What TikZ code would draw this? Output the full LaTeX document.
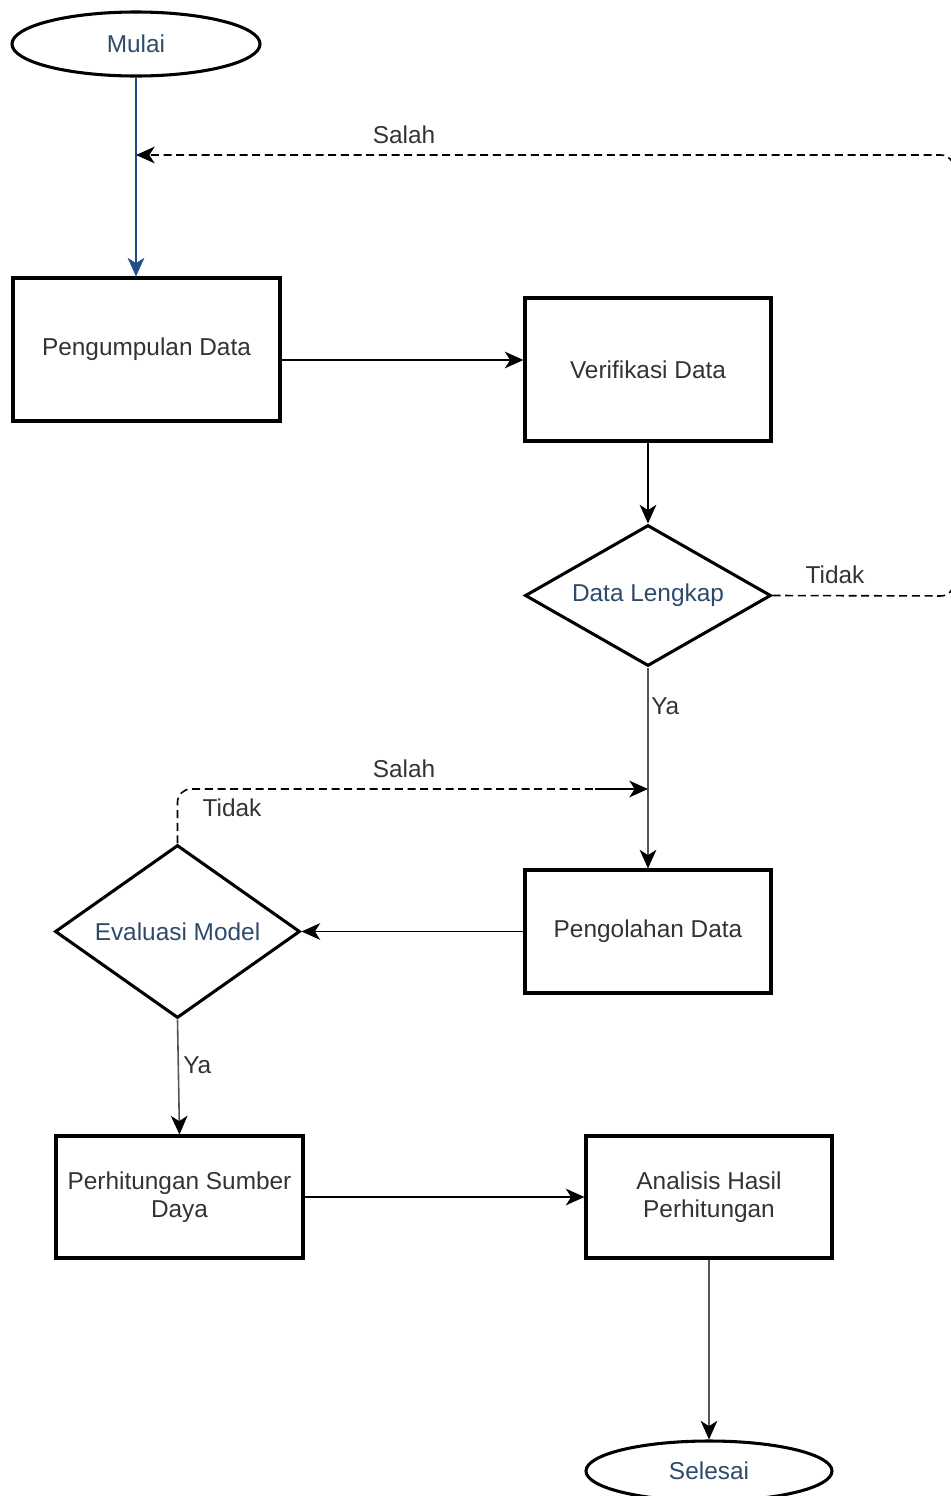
\documentclass[tikz,border=0pt]{standalone}
\usepackage{fontspec}
\setmainfont{Liberation Sans}
\usetikzlibrary{shapes.geometric,arrows.meta}
\definecolor{txt}{HTML}{333333}
\definecolor{navytxt}{HTML}{2E4A6B}
\definecolor{flowblue}{HTML}{1F4E89}
\definecolor{linegray}{HTML}{555555}
\newcommand\pxu{0.75pt}
\tikzset{
  lbl/.style={font=\fontsize{18.3}{21}\selectfont, text=txt, inner sep=0},
  boxnode/.style={draw, line width=2.3pt, align=center, inner sep=0,
    font=\fontsize{18.3}{21}\selectfont, text=txt},
  termnode/.style={boxnode, ellipse, text=navytxt},
  decnode/.style={boxnode, diamond, text=navytxt},
  tipblack/.style={-{Stealth[length=14pt,width=12.5pt,inset=4pt,color=black]}},
  arr/.style={line width=1.2pt, tipblack},
  dsh/.style={line width=1.2pt, dash pattern=on 6pt off 3.5pt, rounded corners=10pt},
}
\begin{document}
\begin{tikzpicture}[x=0.75pt,y=-0.75pt]
\useasboundingbox (0,0) rectangle (950,1496);

% terminals, process boxes and decisions
\node[termnode, minimum width={248*\pxu}, minimum height={64*\pxu}] (mulai) at (136,44) {Mulai};
\node[boxnode, minimum width={267*\pxu}, minimum height={143*\pxu}] (kumpul) at (146.5,349.5) {Pengumpulan Data};
\node[boxnode, minimum width={246*\pxu}, minimum height={143*\pxu}] (verif) at (648,369.5) {Verifikasi Data};
\node[decnode, aspect=1.745, minimum width={246*\pxu}, minimum height={141*\pxu}] (lengkap) at (648,595.5) {Data Lengkap};
\node[boxnode, minimum width={246*\pxu}, minimum height={123*\pxu}] (olah) at (648,931.5) {Pengolahan Data};
\node[decnode, aspect=1.416, minimum width={245*\pxu}, minimum height={173*\pxu}] (eval) at (177.5,931.5) {Evaluasi Model};
\node[boxnode, minimum width={247*\pxu}, minimum height={122*\pxu}] (hitung) at (179.5,1197) {Perhitungan Sumber\\Daya};
\node[boxnode, minimum width={246*\pxu}, minimum height={122*\pxu}] (analisis) at (709,1197) {Analisis Hasil\\Perhitungan};
\node[termnode, minimum width={246*\pxu}, minimum height={60*\pxu}] (selesai) at (709,1471) {Selesai};

% helper points
\coordinate (joinA) at (mulai.south |- 0,155);
\coordinate (rightA) at (954,155);
\coordinate (rightB) at (954,596);
\coordinate (upB) at (eval.north |- 0,789);
\coordinate (joinB) at (olah.north |- 0,789);
\coordinate (solidB) at (595,789);

% main flow
\draw[arr, draw=flowblue, -{Stealth[length=14pt,width=12.5pt,inset=4pt,color=flowblue]}] (mulai.south) -- (mulai.south |- kumpul.north);
\draw[arr] (kumpul.east |- 0,360) -- (verif.west |- 0,360);
\draw[arr] (verif.south) -- (lengkap.north);
\draw[arr, draw=linegray] (lengkap.south) -- (olah.north);
\draw[arr] (olah.west) -- (eval.east);
\draw[arr, draw=linegray] (eval.south) -- (hitung.north);
\draw[arr] (hitung.east) -- (analisis.west);
\draw[arr, draw=linegray] (analisis.south) -- (selesai.north);

% loops back
\draw[dsh, tipblack] (lengkap.east) -- (rightB) -- (rightA) -- (joinA);
\draw[dsh] (eval.north) -- (upB) -- (solidB);
\draw[arr] (solidB) -- (joinB);

% labels
\node[lbl] (tSalahA) at (404,135) {Salah};
\node[lbl] (tTidakA) at (835,575) {Tidak};
\node[lbl, anchor=west] (tYaA) at (651,706) {Ya};
\node[lbl] (tSalahB) at (404,769) {Salah};
\node[lbl] (tTidakB) at (232,808) {Tidak};
\node[lbl, anchor=west] (tYaB) at (183,1065) {Ya};
\end{tikzpicture}
\end{document}
